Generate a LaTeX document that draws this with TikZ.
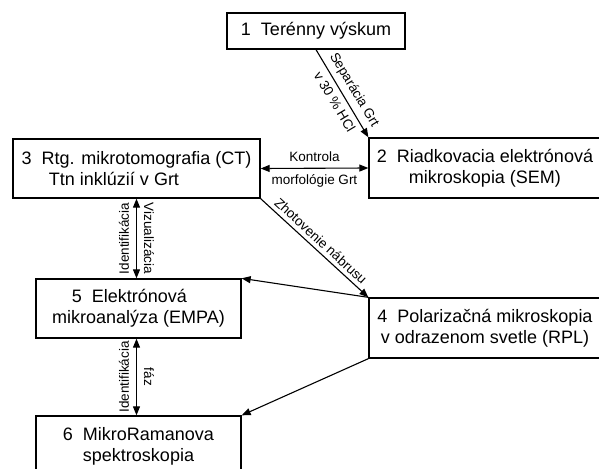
\documentclass[tikz,border=0pt]{standalone}
\usepackage{fontspec}
\setmainfont{Liberation Sans}
\usetikzlibrary{arrows.meta}
\begin{document}
\begin{tikzpicture}[x=1pt,y=-1pt,
 box/.style={draw, line width=1.3pt, inner sep=0pt, align=center, font=\fontsize{18}{21}\selectfont},
 conn/.style={line width=1.1pt, -{Triangle[length=9pt,width=7pt]}},
 biconn/.style={line width=1.1pt, {Triangle[length=9pt,width=7pt]}-{Triangle[length=9pt,width=7pt]}},
 lbl/.style={font=\fontsize{13.5}{16}\selectfont, inner sep=5pt},
 vlbl/.style={font=\fontsize{13.5}{16}\selectfont, inner sep=7pt, anchor=south}]
\useasboundingbox (0,0) rectangle (599,468);
\clip (0,0) rectangle (599,468);
\node[box, minimum width=178pt, minimum height=36pt] (b1) at (316,31) {1\ \ Terénny výskum};
\node[box, minimum width=232pt, minimum height=60pt] (b2) at (485,168) {2\ \ Riadkovacia elektrónová\\mikroskopia (SEM)};
\node[box, minimum width=247pt, minimum height=59pt] (b3) at (136.5,168.5) {3\ \ Rtg. mikrotomografia (CT)\\Ttn inklúzií v Grt\hspace*{45pt}};
\node[box, minimum width=232pt, minimum height=60pt] (b4) at (485,328) {4\ \ Polarizačná mikroskopia\\v odrazenom svetle (RPL)};
\node[box, minimum width=205pt, minimum height=59pt] (b5) at (138.5,308.5) {5\ \ Elektrónová\hspace*{18pt}\\mikroanalýza (EMPA)};
\node[box, minimum width=205pt, minimum height=60pt] (b6) at (138.5,446) {6\ \ MikroRamanova\\spektroskopia};
\draw[conn] (b1.south) -- (b2.north west)
  node[lbl, pos=0.53, sloped, above] {Separácia Grt}
  node[lbl, pos=0.53, sloped, below] {v 30 \% HCl};
\draw[biconn] (b3.east) -- (b2.west)
  node[lbl, midway, above, inner sep=6pt] {Kontrola}
  node[lbl, midway, below, inner sep=6pt] {morfológie Grt};
\draw[conn] (b3.south east) -- (b4.north west)
  node[lbl, midway, sloped, above, inner sep=4pt] {Zhotovenie nábrusu};
\draw[conn] (b4.north west) -- (b5.north east);
\draw[conn] (b4.south west) -- (b6.north east);
\draw[biconn] (b3.south) -- (b3.south |- b5.north)
  node[vlbl, midway, rotate=90] {Identifikácia}
  node[vlbl, midway, rotate=-90] {Vizualizácia};
\draw[biconn] (b5.south -| b3.south) -- (b6.north -| b3.south)
  node[vlbl, midway, rotate=90] {Identifikácia}
  node[vlbl, midway, rotate=-90] {fáz};
\end{tikzpicture}
\end{document}
